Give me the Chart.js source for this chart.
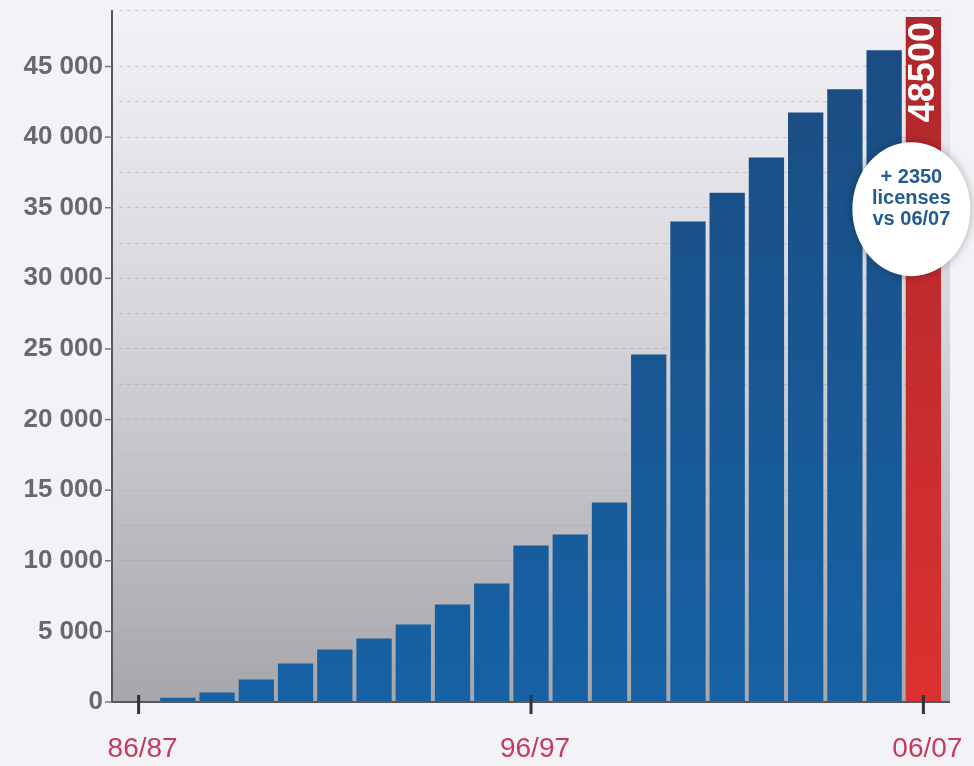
<!DOCTYPE html>
<html>
<head>
    <title>Licenses by season</title>
    <script src="https://cdn.jsdelivr.net/npm/chart.js"></script>
    <style>
        body {
            margin: 0;
            background: #f3f3f7;
        }
        .wrap {
            width: 974px;
            height: 766px;
        }
    </style>
</head>
<body>
    <div class="wrap">
        <canvas id="licChart" width="974" height="766"></canvas>
    </div>

<script>
    // data
    const seasons = ['86/87', '87/88', '88/89', '89/90', '90/91', '91/92', '92/93',
        '93/94', '94/95', '95/96', '96/97', '97/98', '98/99', '99/00',
        '00/01', '01/02', '02/03', '03/04', '04/05', '05/06', '06/07'];
    const licenses = [0, 300, 670, 1590, 2730, 3720, 4500, 5490, 6900, 8390, 11080,
        11860, 14130, 24610, 34030, 36060, 38560, 41750, 43380, 46150, 48500];
    const labeledSeasons = ['86/87', '96/97', '06/07'];
    const highlightSeason = '06/07';
    const yMax = 49000;
    const yStep = 2500;
    const yLabelStep = 5000;
    const hiddenGrid = [0, 47500];
    const bubbleLines = ['+ 2350', 'licenses', 'vs 06/07'];
    const bubbleValue = 34900;

    const FONT = '"Liberation Sans", Arial, Helvetica, sans-serif';

    const fmt = v => String(v).replace(/\B(?=(\d{3})+(?!\d))/g, ' ');

    function barColor(ctx) {
        const area = ctx.chart.chartArea;
        const red = seasons[ctx.dataIndex] === highlightSeason;
        if (!area) return red ? '#c82d2f' : '#1a5690';
        const g = ctx.chart.ctx.createLinearGradient(0, area.top, 0, area.bottom);
        if (red) {
            g.addColorStop(0, '#ad272c');
            g.addColorStop(1, '#db3130');
        } else {
            g.addColorStop(0, '#1b4b7f');
            g.addColorStop(1, '#1662a5');
        }
        return g;
    }

    const decor = {
        id: 'decor',
        beforeDraw(chart) {
            const { ctx, chartArea: a } = chart;
            ctx.save();
            ctx.fillStyle = '#f3f3f7';
            ctx.fillRect(0, 0, chart.width, chart.height);
            const g = ctx.createLinearGradient(0, a.top, 0, a.bottom);
            g.addColorStop(0, '#f3f3f7');
            g.addColorStop(0.45, '#d6d6da');
            g.addColorStop(1, '#a6a6ab');
            ctx.fillStyle = g;
            ctx.fillRect(a.left - 7, a.top, a.right - a.left + 14, a.bottom - a.top);
            ctx.restore();
        },
        afterDatasetsDraw(chart) {
            const { ctx, chartArea: a, scales: { x, y } } = chart;
            const axisX = a.left - 7;
            ctx.save();

            // axes
            ctx.strokeStyle = '#58585c';
            ctx.lineWidth = 2;
            ctx.beginPath();
            ctx.moveTo(axisX, a.top);
            ctx.lineTo(axisX, a.bottom);
            ctx.lineTo(a.right + 7, a.bottom);
            ctx.stroke();

            // y tick marks
            ctx.lineWidth = 1.5;
            ctx.strokeStyle = '#7a7a7e';
            for (let v = 0; v <= yMax; v += yLabelStep) {
                const py = y.getPixelForValue(v);
                ctx.beginPath();
                ctx.moveTo(axisX - 7, py);
                ctx.lineTo(axisX, py);
                ctx.stroke();
            }

            // x tick marks
            ctx.lineWidth = 3;
            ctx.strokeStyle = '#333336';
            labeledSeasons.forEach(s => {
                const px = x.getPixelForValue(seasons.indexOf(s));
                ctx.beginPath();
                ctx.moveTo(px, a.bottom - 7);
                ctx.lineTo(px, a.bottom + 12);
                ctx.stroke();
            });

            // value inside the red bar
            const hi = seasons.indexOf(highlightSeason);
            ctx.translate(x.getPixelForValue(hi), y.getPixelForValue(licenses[hi]) + 5);
            ctx.rotate(-Math.PI / 2);
            ctx.fillStyle = '#ffffff';
            ctx.font = 'bold 36px ' + FONT;
            ctx.textAlign = 'right';
            ctx.textBaseline = 'middle';
            ctx.fillText(String(licenses[hi]), 0, 1);
            ctx.restore();

            // bubble
            const cx = x.getPixelForValue(hi) - 12;
            const cy = y.getPixelForValue(bubbleValue);
            ctx.save();
            ctx.shadowColor = 'rgba(0,0,0,0.3)';
            ctx.shadowBlur = 10;
            ctx.fillStyle = '#ffffff';
            ctx.beginPath();
            ctx.ellipse(cx, cy, 59, 67, 0, 0, Math.PI * 2);
            ctx.fill();
            ctx.shadowColor = 'transparent';
            ctx.fillStyle = '#245b92';
            ctx.font = 'bold 20px ' + FONT;
            ctx.textAlign = 'center';
            ctx.textBaseline = 'middle';
            bubbleLines.forEach((t, i) => ctx.fillText(t, cx, cy - 32 + i * 21));
            ctx.restore();
        }
    };

    new Chart(document.getElementById('licChart'), {
        type: 'bar',
        data: {
            labels: seasons,
            datasets: [{
                data: licenses,
                backgroundColor: barColor,
                barPercentage: 0.9,
                categoryPercentage: 1.0
            }]
        },
        options: {
            responsive: false,
            animation: false,
            layout: { padding: { left: 0, right: 31, top: 10, bottom: 0 } },
            plugins: {
                legend: { display: false },
                tooltip: { enabled: false }
            },
            scales: {
                x: {
                    afterFit: s => {
                        s.height = 64;
                        s.paddingLeft = 0;
                        s.paddingRight = 0;
                    },
                    grid: { display: false, drawTicks: false },
                    border: { display: false },
                    ticks: {
                        autoSkip: false,
                        maxRotation: 0,
                        padding: 30,
                        labelOffset: 4,
                        color: '#c53b5c',
                        font: { family: FONT, size: 28 },
                        callback: (v, i) => labeledSeasons.includes(seasons[i]) ? seasons[i] : ''
                    }
                },
                y: {
                    min: 0,
                    max: yMax,
                    afterBuildTicks: s => {
                        const t = [];
                        for (let v = 0; v < yMax; v += yStep) t.push({ value: v });
                        t.push({ value: yMax });
                        s.ticks = t;
                    },
                    afterFit: s => {
                        s.width = 119;
                        s.paddingTop = 0;
                        s.paddingBottom = 0;
                    },
                    border: { display: false, dash: [4, 4] },
                    grid: {
                        drawTicks: false,
                        lineWidth: 1,
                        color: c => hiddenGrid.includes(c.tick.value)
                            ? 'rgba(0,0,0,0)' : 'rgba(150,150,160,0.4)'
                    },
                    ticks: {
                        autoSkip: false,
                        padding: 16,
                        color: '#69696d',
                        font: { family: FONT, size: 26, weight: 'bold' },
                        callback: v => (v % yLabelStep === 0) ? fmt(v) : ''
                    }
                }
            }
        },
        plugins: [decor]
    });
</script>
</body>
</html>
